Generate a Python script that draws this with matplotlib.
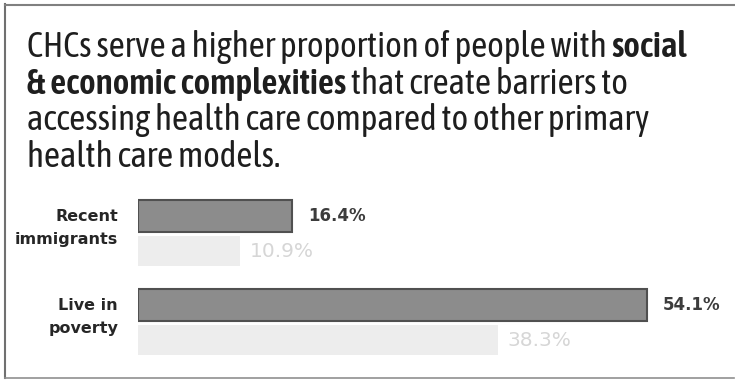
import numpy as np
import matplotlib
matplotlib.use('Agg')
import matplotlib.pyplot as plt

categories = ['Recent\nimmigrants', 'Live in\npoverty']
chc_values = [16.4, 54.1]
other_values = [10.9, 38.3]

plt.rcParams['font.family'] = ['Asap Condensed', 'Lato', 'DejaVu Sans']
label_font = ['DejaVu Sans']
value_font = ['DejaVu Sans']

fig = plt.figure(figsize=(7.35, 3.81), dpi=100)

# background layer in pixel coords for the frame and the title
bg = fig.add_axes([0, 0, 1, 1])
bg.set_xlim(0, 735)
bg.set_ylim(381, 0)
bg.axis('off')
bg.plot([5, 5], [4, 378], color='#707070', lw=1.5)
bg.plot([5, 734], [5, 5], color='#808080', lw=1.5)
bg.plot([5, 734], [378, 378], color='#909090', lw=1.2)

tcol = '#1e1e1e'
tsize = 25.3
t = bg.text(27, 57, 'CHCs serve a higher proportion of people with ', fontsize=tsize,
            color=tcol, va='baseline')
bg.annotate('social', xy=(1, 0), xycoords=t, va='bottom', fontsize=tsize,
            color=tcol, fontweight='semibold')
t = bg.text(27, 93.7, '& economic complexities', fontsize=tsize, color=tcol,
            va='baseline', fontweight='semibold')
bg.annotate(' that create barriers to', xy=(1, 0), xycoords=t, va='bottom',
            fontsize=tsize, color=tcol)
bg.text(27, 130.3, 'accessing health care compared to other primary', fontsize=tsize,
        color=tcol, va='baseline')
bg.text(27, 167, 'health care models.', fontsize=tsize, color=tcol, va='baseline')

# bar chart
ax = fig.add_axes([138 / 735, 1 - 370 / 381, 597 / 735, 180 / 381])
y = np.arange(len(categories))
ax.barh(y - 0.197, chc_values, height=0.36, color='#8c8c8c', edgecolor='#505050', lw=1.5)
ax.barh(y + 0.197, other_values, height=0.33, color='#ededed')
ax.set_xlim(0, 597 / 9.4)
ax.set_ylim(1.534, -0.489)
ax.axis('off')

for i, (a, b) in enumerate(zip(chc_values, other_values)):
    ax.annotate(f'{a}%', xy=(a, i - 0.197), xytext=(16, 0), textcoords='offset pixels',
                va='center', ha='left', fontsize=12, fontweight='bold', color='#3c3c3c',
                family=value_font)
    ax.annotate(f'{b}%', xy=(b, i + 0.197), xytext=(9, 0), textcoords='offset pixels',
                va='center', ha='left', fontsize=14.5, color='#d6d6d6', family=value_font)
    ax.annotate(categories[i], xy=(0, i - 0.06), xytext=(-20, 0), textcoords='offset pixels',
                va='center', ha='right', fontsize=11.5, fontweight='bold', color='#262626',
                linespacing=1.7, family=label_font)

fig.savefig('out.png', dpi=100)
